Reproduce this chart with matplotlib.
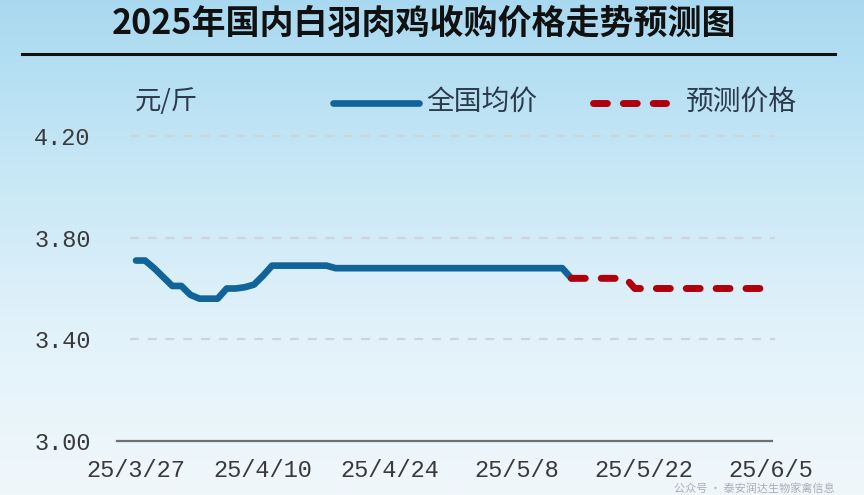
import matplotlib
matplotlib.use("Agg")
import matplotlib.pyplot as plt
import matplotlib.dates as mdates
import numpy as np
import pandas as pd
from matplotlib.colors import LinearSegmentedColormap

plt.rcParams['font.family'] = ['Noto Sans CJK SC', 'DejaVu Sans']

title = "2025年国内白羽肉鸡收购价格走势预测图"
unit_label = "元/斤"
series_names = ["全国均价", "预测价格"]

actual_start = "2025-03-27"
actual_values = [3.71, 3.71, 3.68, 3.645, 3.61, 3.61, 3.575, 3.56, 3.56, 3.56,
                 3.60, 3.60, 3.605, 3.615, 3.65, 3.69, 3.69, 3.69, 3.69, 3.69,
                 3.69, 3.69, 3.68, 3.68, 3.68, 3.68, 3.68, 3.68, 3.68, 3.68,
                 3.68, 3.68, 3.68, 3.68, 3.68, 3.68, 3.68, 3.68, 3.68, 3.68,
                 3.68, 3.68, 3.68, 3.68, 3.68, 3.68, 3.68, 3.68, 3.64]
forecast_start = "2025-05-14"
forecast_values = [3.64, 3.64, 3.64, 3.64, 3.64, 3.64, 3.64, 3.60, 3.60, 3.60,
                   3.60, 3.60, 3.60, 3.60, 3.60, 3.60, 3.60, 3.60, 3.60, 3.60,
                   3.60, 3.60, 3.60]
x_tick_dates = ["2025-03-27", "2025-04-10", "2025-04-24", "2025-05-08", "2025-05-22", "2025-06-05"]
x_tick_labels = ["25/3/27", "25/4/10", "25/4/24", "25/5/8", "25/5/22", "25/6/5"]
y_ticks = [3.00, 3.40, 3.80, 4.20]
watermark = "公众号 · 泰安润达生物家禽信息"

actual_dates = pd.date_range(actual_start, periods=len(actual_values), freq="D")
forecast_dates = pd.date_range(forecast_start, periods=len(forecast_values), freq="D")
tick_dates = pd.to_datetime(x_tick_dates)

W, H = 864, 495
fig = plt.figure(figsize=(W / 100, H / 100), dpi=100)

# background gradient
bg = fig.add_axes([0, 0, 1, 1], zorder=-10)
cmap = LinearSegmentedColormap.from_list("bg", ["#a9d9f0", "#c6e7f6", "#e2f2fa", "#f0f7fb"])
grad = np.linspace(0, 1, 256).reshape(-1, 1)
bg.imshow(grad, aspect="auto", cmap=cmap, extent=[0, 1, 0, 1], origin="upper")
bg.set_axis_off()

# title
fig.text(424 / W, 1 - 23 / H, title, ha="center", va="center", fontsize=24.5,
         fontweight="bold", color="#111111")
fig.add_artist(plt.Line2D([22 / W, 835 / W], [1 - 54 / H, 1 - 54 / H], color="#111111", lw=2.2))

# axes
t0 = mdates.date2num(tick_dates[0])
ppd = 9.07
left_px, right_px = 117, 772
xl0 = t0 + (left_px - 136) / ppd
xl1 = t0 + (right_px - 136) / ppd
ax = fig.add_axes([left_px / W, 1 - 441 / H, (right_px - left_px) / W, (441 - 136) / H])
ax.set_facecolor("none")
ax.set_xlim(xl0, xl1)
ax.set_ylim(3.0, 4.2)

for s in ["top", "right", "left"]:
    ax.spines[s].set_visible(False)
ax.spines["bottom"].set_color("#707070")
ax.spines["bottom"].set_linewidth(1.6)

gx0 = t0 + (130 - 136) / ppd
gx1 = t0 + (775 - 136) / ppd
ax.hlines(y_ticks[1:], gx0, gx1, colors="#cdd5dc", linestyles=(0, (4, 4)), linewidth=1.6,
          clip_on=False, zorder=1)

ax.plot(mdates.date2num(actual_dates), actual_values, color="#11649a", lw=4.8,
        solid_capstyle="round", solid_joinstyle="round", clip_on=False, zorder=3)
ax.plot(mdates.date2num(forecast_dates), forecast_values, color="#b0000c", lw=5.0,
        dashes=(2.0, 2.3), dash_capstyle="round", clip_on=False, zorder=4)

ax.set_xticks(mdates.date2num(tick_dates))
ax.set_xticklabels(x_tick_labels)
ax.set_yticks(y_ticks)
ax.set_yticklabels([f"{v:.2f}" for v in y_ticks])
ax.tick_params(length=0)
ax.tick_params(axis="x", pad=13)
ax.tick_params(axis="y", pad=19)
for lab in ax.get_xticklabels() + ax.get_yticklabels():
    lab.set_fontfamily("Liberation Mono")
    lab.set_fontsize(17)
    lab.set_color("#3a3a3a")

# unit + legend
txtc = "#2b3b4b"
fig.text(135 / W, 1 - 102 / H, unit_label, ha="left", va="center", fontsize=19, color=txtc)
ly = 1 - 103 / H
fig.add_artist(plt.Line2D([333 / W, 419 / W], [ly, ly], color="#11649a", lw=4.8,
                          solid_capstyle="round"))
fig.text(426 / W, 1 - 102 / H, series_names[0], ha="left", va="center", fontsize=20, color=txtc)
fig.add_artist(plt.Line2D([593 / W, 666 / W], [ly, ly], color="#b0000c", lw=5.0,
                          dashes=(2.0, 2.3), dash_capstyle="round"))
fig.text(686 / W, 1 - 102 / H, series_names[1], ha="left", va="center", fontsize=20, color=txtc)

# watermark (moved just below the tick labels to avoid overlap)
fig.text(835 / W, 1 - 489 / H, watermark, ha="right", va="center", fontsize=8,
         color="#8a8f94", alpha=0.7)

fig.savefig("out.png", dpi=100)
